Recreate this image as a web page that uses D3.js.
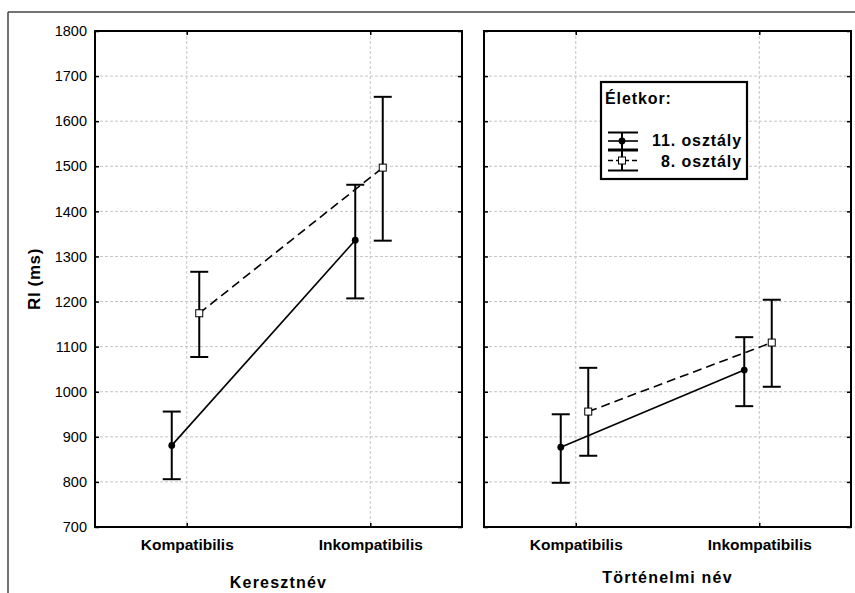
<!DOCTYPE html>
<html>
<head>
<meta charset="utf-8">
<script src="https://cdn.jsdelivr.net/npm/d3@7"></script>
<style>
  html, body { margin: 0; padding: 0; background: #fff; }
  svg { display: block; font-family: "Liberation Sans", Arial, sans-serif; }
</style>
</head>
<body>
<svg id="chart" width="855" height="593"></svg>
<script>
// ---------- data ----------
const categories = ["Kompatibilis", "Inkompatibilis"];
const panelTitles = ["Keresztnév", "Történelmi név"];
const seriesNames = ["11. osztály", "8. osztály"];
const legendTitle = "Életkor:";
const yAxisTitle = "RI (ms)";
const yTicks = [700, 800, 900, 1000, 1100, 1200, 1300, 1400, 1500, 1600, 1700, 1800];

// Keresztnév panel
const kereszt11Mean = [881, 1336];
const kereszt11Low  = [806, 1207];
const kereszt11High = [956, 1459];
const kereszt8Mean  = [1174, 1497];
const kereszt8Low   = [1077, 1335];
const kereszt8High  = [1266, 1654];

// Történelmi név panel
const tort11Mean = [877, 1048];
const tort11Low  = [798, 968];
const tort11High = [950, 1121];
const tort8Mean  = [956, 1109];
const tort8Low   = [858, 1011];
const tort8High  = [1053, 1204];

// ---------- layout ----------
const svg = d3.select("#chart");
const plotTop = 31, plotBottom = 527;
const panelX = [[95, 462], [484, 851]];
const seriesOffset = [-15, 12.5];
const seriesDash = [null, "9,5"];

const y = d3.scaleLinear().domain([700, 1800]).range([plotBottom, plotTop]);

// outer frame
svg.append("line").attr("x1", 8).attr("x2", 860).attr("y1", 12).attr("y2", 12)
  .attr("stroke", "#444").attr("stroke-width", 1.5);
svg.append("line").attr("x1", 8).attr("x2", 8).attr("y1", 12).attr("y2", 600)
  .attr("stroke", "#444").attr("stroke-width", 1.5);

const panels = [
  { title: panelTitles[0], titleY: 588, series: [
      { mean: kereszt11Mean, low: kereszt11Low, high: kereszt11High },
      { mean: kereszt8Mean,  low: kereszt8Low,  high: kereszt8High } ] },
  { title: panelTitles[1], titleY: 583, series: [
      { mean: tort11Mean, low: tort11Low, high: tort11High },
      { mean: tort8Mean,  low: tort8Low,  high: tort8High } ] }
];

panels.forEach((p, pi) => {
  const [x0, x1] = panelX[pi];
  const x = d3.scalePoint().domain(categories).range([x0, x1]).padding(0.5);
  const g = svg.append("g");

  // grid
  g.selectAll(".hgrid").data(yTicks.slice(1, -1)).enter().append("line")
    .attr("x1", x0).attr("x2", x1)
    .attr("y1", d => y(d)).attr("y2", d => y(d))
    .attr("stroke", "#c4c4c4").attr("stroke-width", 1).attr("stroke-dasharray", "3,2");
  g.selectAll(".vgrid").data(categories).enter().append("line")
    .attr("x1", d => x(d)).attr("x2", d => x(d))
    .attr("y1", plotTop).attr("y2", plotBottom)
    .attr("stroke", "#c4c4c4").attr("stroke-width", 1).attr("stroke-dasharray", "3,2");

  // axes with inward ticks
  const left = d3.axisLeft(y).tickValues(yTicks).tickSizeInner(-4).tickSizeOuter(0)
    .tickPadding(8).tickFormat(pi === 0 ? d3.format("d") : () => "");
  const right = d3.axisRight(y).tickValues(yTicks).tickSizeInner(-4).tickSizeOuter(0).tickFormat(() => "");
  const bottom = d3.axisBottom(x).tickSizeInner(-4).tickSizeOuter(0).tickPadding(12);
  const top = d3.axisTop(x).tickSizeInner(-4).tickSizeOuter(0).tickFormat(() => "");

  const ga = g.append("g").attr("transform", `translate(${x0},0)`).call(left);
  ga.selectAll("text").attr("font-size", 14.5).attr("fill", "#000")
    .attr("font-family", "'Liberation Sans', Arial, sans-serif");
  g.append("g").attr("transform", `translate(${x1},0)`).call(right);
  const gb = g.append("g").attr("transform", `translate(0,${plotBottom})`).call(bottom);
  gb.selectAll("text").attr("font-size", 15.5).attr("font-weight", "bold").attr("fill", "#000")
    .attr("font-family", "'Liberation Sans', Arial, sans-serif");
  g.append("g").attr("transform", `translate(0,${plotTop})`).call(top);
  g.selectAll(".domain").remove();
  g.selectAll(".tick line").attr("stroke", "#000").attr("stroke-width", 1.5);

  // frame
  g.append("rect").attr("x", x0).attr("y", plotTop)
    .attr("width", x1 - x0).attr("height", plotBottom - plotTop)
    .attr("fill", "none").attr("stroke", "#000").attr("stroke-width", 2);

  // series
  p.series.forEach((s, si) => {
    const off = seriesOffset[si];
    const pts = categories.map((c, i) => ({ x: x(c) + off, m: s.mean[i], lo: s.low[i], hi: s.high[i] }));
    g.append("path")
      .attr("d", d3.line().x(d => d.x).y(d => y(d.m))(pts))
      .attr("fill", "none").attr("stroke", "#000").attr("stroke-width", 1.6)
      .attr("stroke-dasharray", seriesDash[si]);
    pts.forEach(d => {
      g.append("line").attr("x1", d.x).attr("x2", d.x).attr("y1", y(d.lo)).attr("y2", y(d.hi))
        .attr("stroke", "#000").attr("stroke-width", 2);
      [d.lo, d.hi].forEach(v => {
        g.append("line").attr("x1", d.x - 9).attr("x2", d.x + 9).attr("y1", y(v)).attr("y2", y(v))
          .attr("stroke", "#000").attr("stroke-width", 2);
      });
    });
    pts.forEach(d => {
      if (si === 0) {
        g.append("circle").attr("cx", d.x).attr("cy", y(d.m)).attr("r", 3.4).attr("fill", "#000");
      } else {
        g.append("rect").attr("x", d.x - 3.5).attr("y", y(d.m) - 3.5).attr("width", 7).attr("height", 7)
          .attr("fill", "#fff").attr("stroke", "#000").attr("stroke-width", 1);
      }
    });
  });

  svg.append("text").attr("x", (x0 + x1) / 2).attr("y", p.titleY)
    .attr("text-anchor", "middle").attr("font-size", 16).attr("font-weight", "bold")
    .attr("letter-spacing", 1.2).text(p.title);
});

// y axis title
svg.append("text").attr("transform", `translate(40,${(plotTop + plotBottom) / 2}) rotate(-90)`)
  .attr("text-anchor", "middle").attr("font-size", 17).attr("font-weight", "bold")
  .attr("letter-spacing", 0.6).text(yAxisTitle);

// legend
const lg = svg.append("g");
lg.append("rect").attr("x", 601).attr("y", 82).attr("width", 146).attr("height", 97)
  .attr("fill", "#fff").attr("stroke", "#000").attr("stroke-width", 2.2);
lg.append("text").attr("x", 605).attr("y", 104).attr("font-size", 16).attr("font-weight", "bold")
  .attr("letter-spacing", 0.9).text(legendTitle);
const legRows = [{ cy: 141, h: 8.5, ty: 146 }, { cy: 160.5, h: 10, ty: 167 }];
seriesNames.forEach((name, si) => {
  const r = legRows[si];
  const sx0 = 608, sx1 = 638, sxm = 622;
  [r.cy - r.h, r.cy + r.h].forEach(v => {
    lg.append("line").attr("x1", sx0).attr("x2", sx1).attr("y1", v).attr("y2", v)
      .attr("stroke", "#000").attr("stroke-width", 2);
  });
  lg.append("line").attr("x1", sxm).attr("x2", sxm).attr("y1", r.cy - r.h).attr("y2", r.cy + r.h)
    .attr("stroke", "#000").attr("stroke-width", 2);
  lg.append("line").attr("x1", sx0).attr("x2", sx1).attr("y1", r.cy).attr("y2", r.cy)
    .attr("stroke", "#000").attr("stroke-width", 1.6).attr("stroke-dasharray", si === 1 ? "5,3" : null);
  if (si === 0) {
    lg.append("circle").attr("cx", sxm).attr("cy", r.cy).attr("r", 3.4).attr("fill", "#000");
  } else {
    lg.append("rect").attr("x", sxm - 3.5).attr("y", r.cy - 3.5).attr("width", 7).attr("height", 7)
      .attr("fill", "#fff").attr("stroke", "#000").attr("stroke-width", 1);
  }
  lg.append("text").attr("x", 742).attr("y", r.ty).attr("text-anchor", "end")
    .attr("font-size", 16).attr("font-weight", "bold").attr("letter-spacing", 0.9).text(name);
});
</script>
</body>
</html>
